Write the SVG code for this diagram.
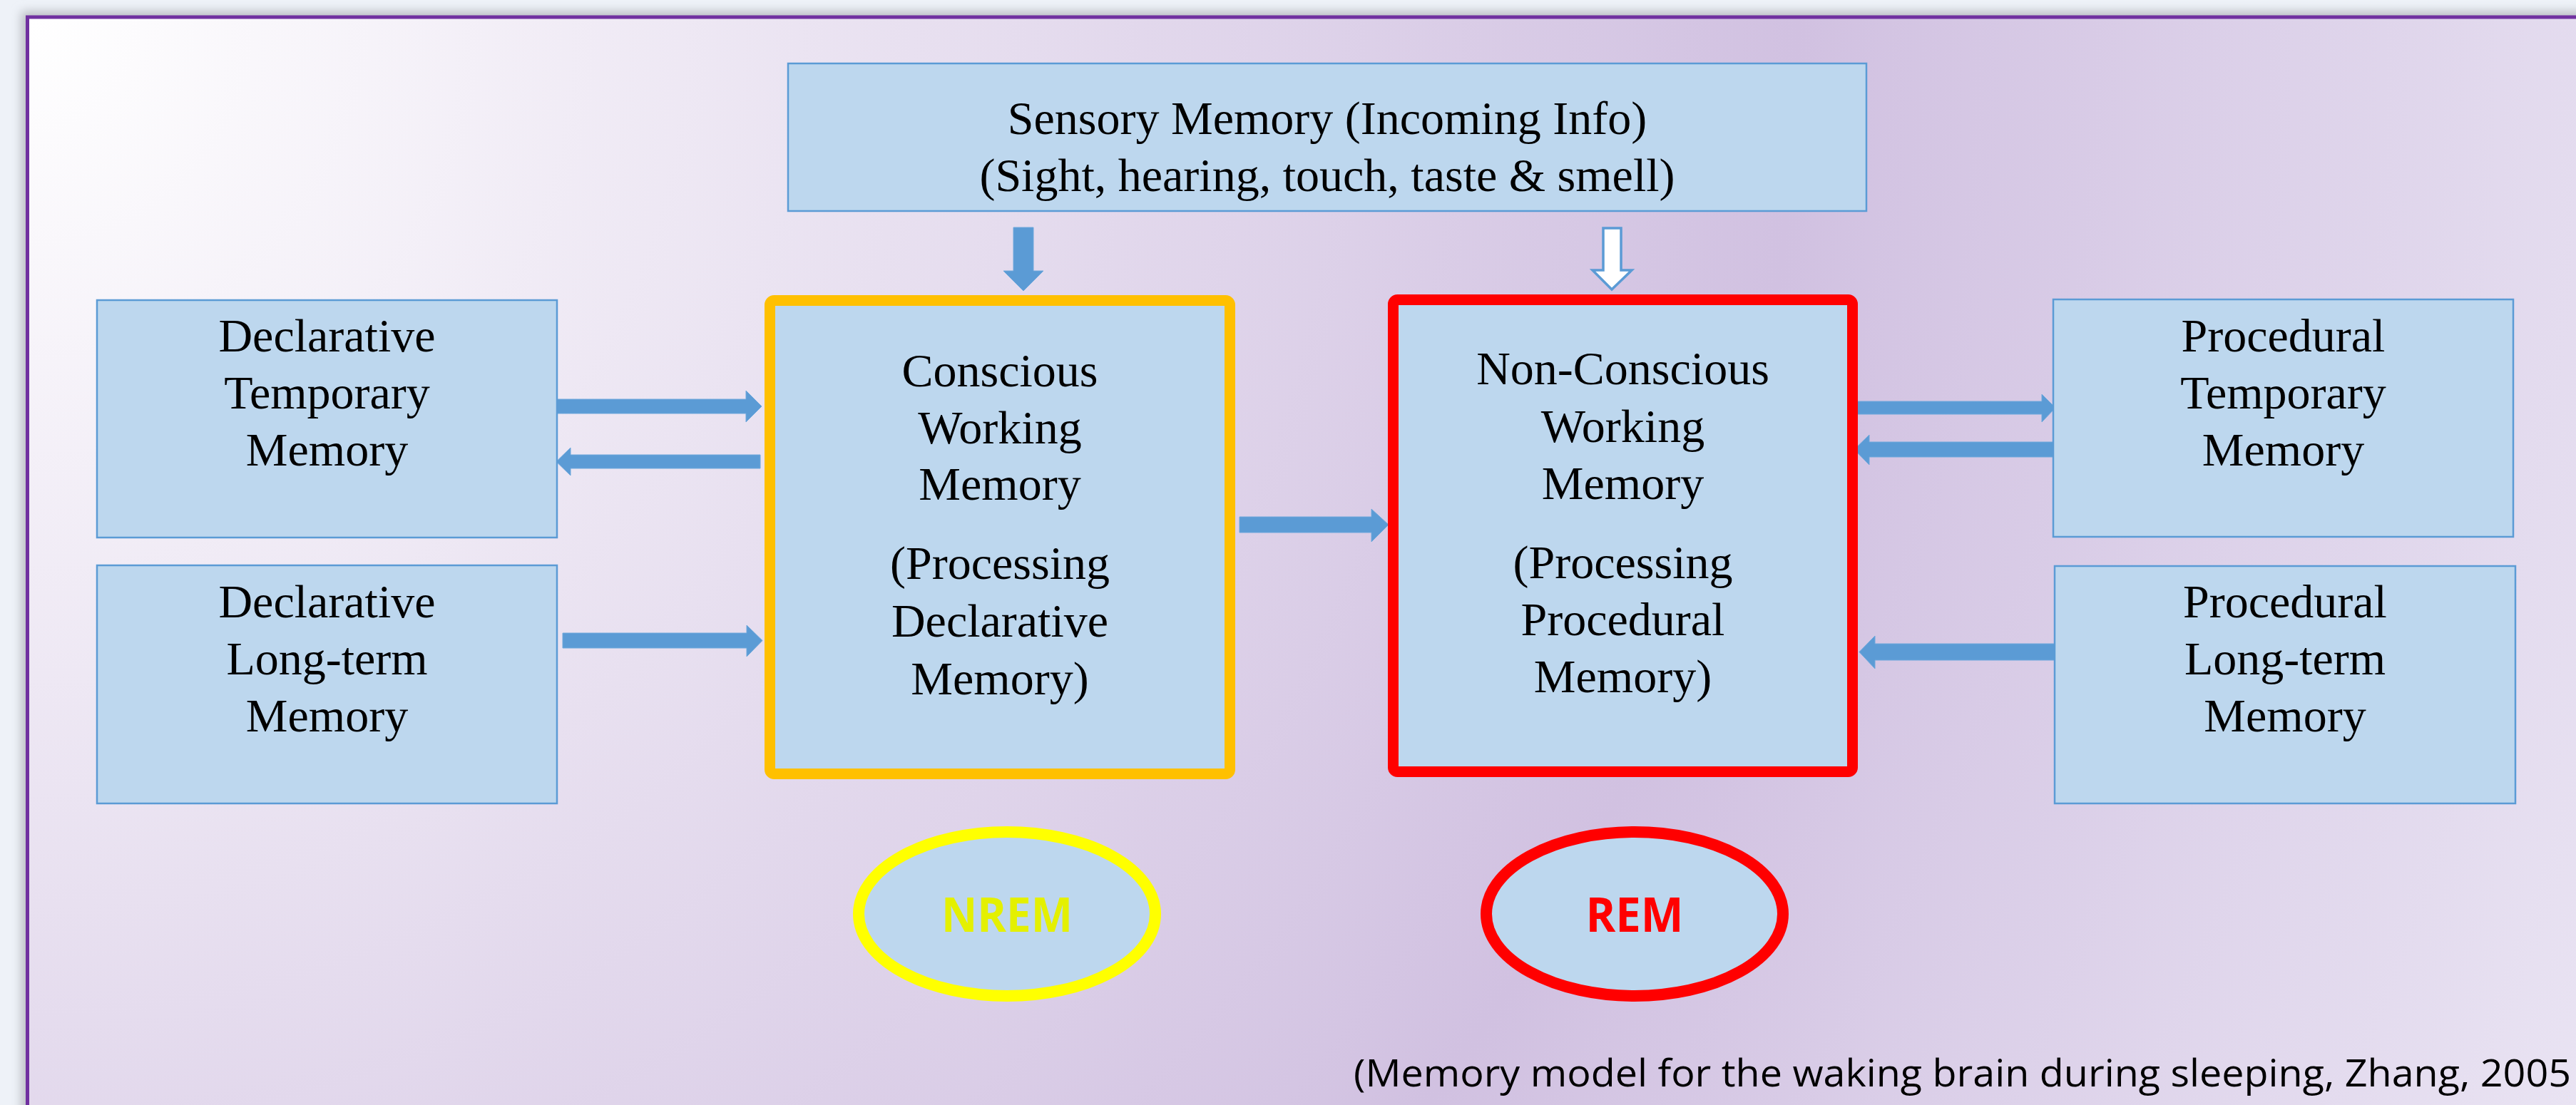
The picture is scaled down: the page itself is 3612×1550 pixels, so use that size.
<svg xmlns="http://www.w3.org/2000/svg" width="3612" height="1550" viewBox="0 0 3612 1550">
<defs>
<radialGradient id="bg" gradientUnits="userSpaceOnUse" cx="40" cy="30" r="4000">
<stop offset="0" stop-color="#ffffff"/>
<stop offset="0.62" stop-color="#d1c1e1"/>
<stop offset="1" stop-color="#ebe6f4"/>
</radialGradient>
<filter id="sh" x="-5%" y="-5%" width="110%" height="110%">
<feGaussianBlur stdDeviation="7"/>
</filter>
<style>
.box{fill:#BDD7EE;stroke:#5B9BD5;stroke-width:2.5}
.t{font-family:"Liberation Serif","Times New Roman",serif;font-size:66px;fill:#000;text-anchor:middle}
.arr{fill:#5B9BD5;stroke:#6FA8DC;stroke-width:1}
.el{fill:#BDD7EE;stroke-width:16}
.lbl{font-family:"Open Sans","Liberation Sans",sans-serif;font-weight:700;font-size:66px;text-anchor:middle}
</style>
</defs>
<rect x="0" y="0" width="3612" height="1550" fill="#eef2f8"/>
<rect x="30" y="16" width="3620" height="1600" fill="#b9bcc2" filter="url(#sh)"/>
<rect id="frame" x="38.5" y="24" width="3620" height="1600" fill="url(#bg)" stroke="#7030A0" stroke-width="5"/>

<g id="connectors">
<polygon class="arr" points="1421,319 1449,319 1449,380 1463,380 1435,408 1407,380 1421,380"/>
<polygon points="2248,320 2273,320 2273,379 2288,379 2260,406 2233,379 2248,379" fill="#ffffff" stroke="#5B9BD5" stroke-width="3.5"/>
<polygon class="arr" points="781,560 1046,560 1046,548 1068,570 1046,592 1046,580 781,580"/>
<polygon class="arr" points="1066,638 800,638 800,628 780,647.5 800,667 800,657 1066,657"/>
<polygon class="arr" points="789,888 1047,888 1047,877 1069,898.5 1047,921 1047,909 789,909"/>
<polygon class="arr" points="1738,725 1923,725 1923,714 1947,736 1923,760 1923,747 1738,747"/>
<polygon class="arr" points="2598,563 2863,563 2863,553 2882,572 2863,592 2863,581 2598,581"/>
<polygon class="arr" points="2882,620 2621,620 2621,610 2600,630.5 2621,652 2621,641 2882,641"/>
<polygon class="arr" points="2882,903 2629,903 2629,892 2607,914.5 2629,938 2629,926 2882,926"/>
</g>

<g id="sensory">
<rect class="box" x="1105" y="89" width="1512" height="207"/>
<text class="t" x="1861" y="188">Sensory Memory (Incoming Info)</text>
<text class="t" x="1861" y="268">(Sight, hearing, touch, taste &amp; smell)</text>
</g>

<g id="decl-temp">
<rect class="box" x="136" y="421" width="645" height="333"/>
<text class="t" x="458.5" y="493">Declarative</text>
<text class="t" x="458.5" y="573">Temporary</text>
<text class="t" x="458.5" y="653">Memory</text>
</g>

<g id="decl-long">
<rect class="box" x="136" y="793" width="645" height="334"/>
<text class="t" x="458.5" y="866">Declarative</text>
<text class="t" x="458.5" y="946">Long-term</text>
<text class="t" x="458.5" y="1026">Memory</text>
</g>

<g id="conscious">
<rect x="1079.5" y="421.5" width="645" height="664" rx="6" fill="#BDD7EE" stroke="#FFC000" stroke-width="15"/>
<text class="t" x="1402" y="542">Conscious</text>
<text class="t" x="1402" y="622">Working</text>
<text class="t" x="1402" y="701">Memory</text>
<text class="t" x="1402" y="812">(Processing</text>
<text class="t" x="1402" y="893">Declarative</text>
<text class="t" x="1402" y="974">Memory)</text>
</g>

<g id="nonconscious">
<rect x="1953.5" y="420.5" width="644" height="662" rx="6" fill="#BDD7EE" stroke="#FF0000" stroke-width="15"/>
<text class="t" x="2275.5" y="539">Non-Conscious</text>
<text class="t" x="2275.5" y="620">Working</text>
<text class="t" x="2275.5" y="700">Memory</text>
<text class="t" x="2275.5" y="811">(Processing</text>
<text class="t" x="2275.5" y="891">Procedural</text>
<text class="t" x="2275.5" y="971">Memory)</text>
</g>

<g id="proc-temp">
<rect class="box" x="2879" y="420" width="645" height="333"/>
<text class="t" x="3201.5" y="493">Procedural</text>
<text class="t" x="3201.5" y="573">Temporary</text>
<text class="t" x="3201.5" y="653">Memory</text>
</g>

<g id="proc-long">
<rect class="box" x="2881" y="794" width="646" height="333"/>
<text class="t" x="3204" y="866">Procedural</text>
<text class="t" x="3204" y="946">Long-term</text>
<text class="t" x="3204" y="1026">Memory</text>
</g>

<g id="nrem">
<ellipse class="el" cx="1412" cy="1282" rx="208" ry="115" stroke="#FFFF00"/>
<text class="lbl" x="1412" y="1307" fill="#E4F000" textLength="184" lengthAdjust="spacingAndGlyphs">NREM</text>
</g>

<g id="rem">
<ellipse class="el" cx="2292" cy="1282" rx="208" ry="115" stroke="#FF0000"/>
<text class="lbl" x="2292" y="1307" fill="#FF0000" textLength="137" lengthAdjust="spacingAndGlyphs">REM</text>
</g>

<text id="caption" x="1898" y="1524" font-family="'Open Sans','Liberation Sans',sans-serif" font-size="53" fill="#000" textLength="1707" lengthAdjust="spacingAndGlyphs">(Memory model for the waking brain during sleeping, Zhang, 2005</text>
</svg>
